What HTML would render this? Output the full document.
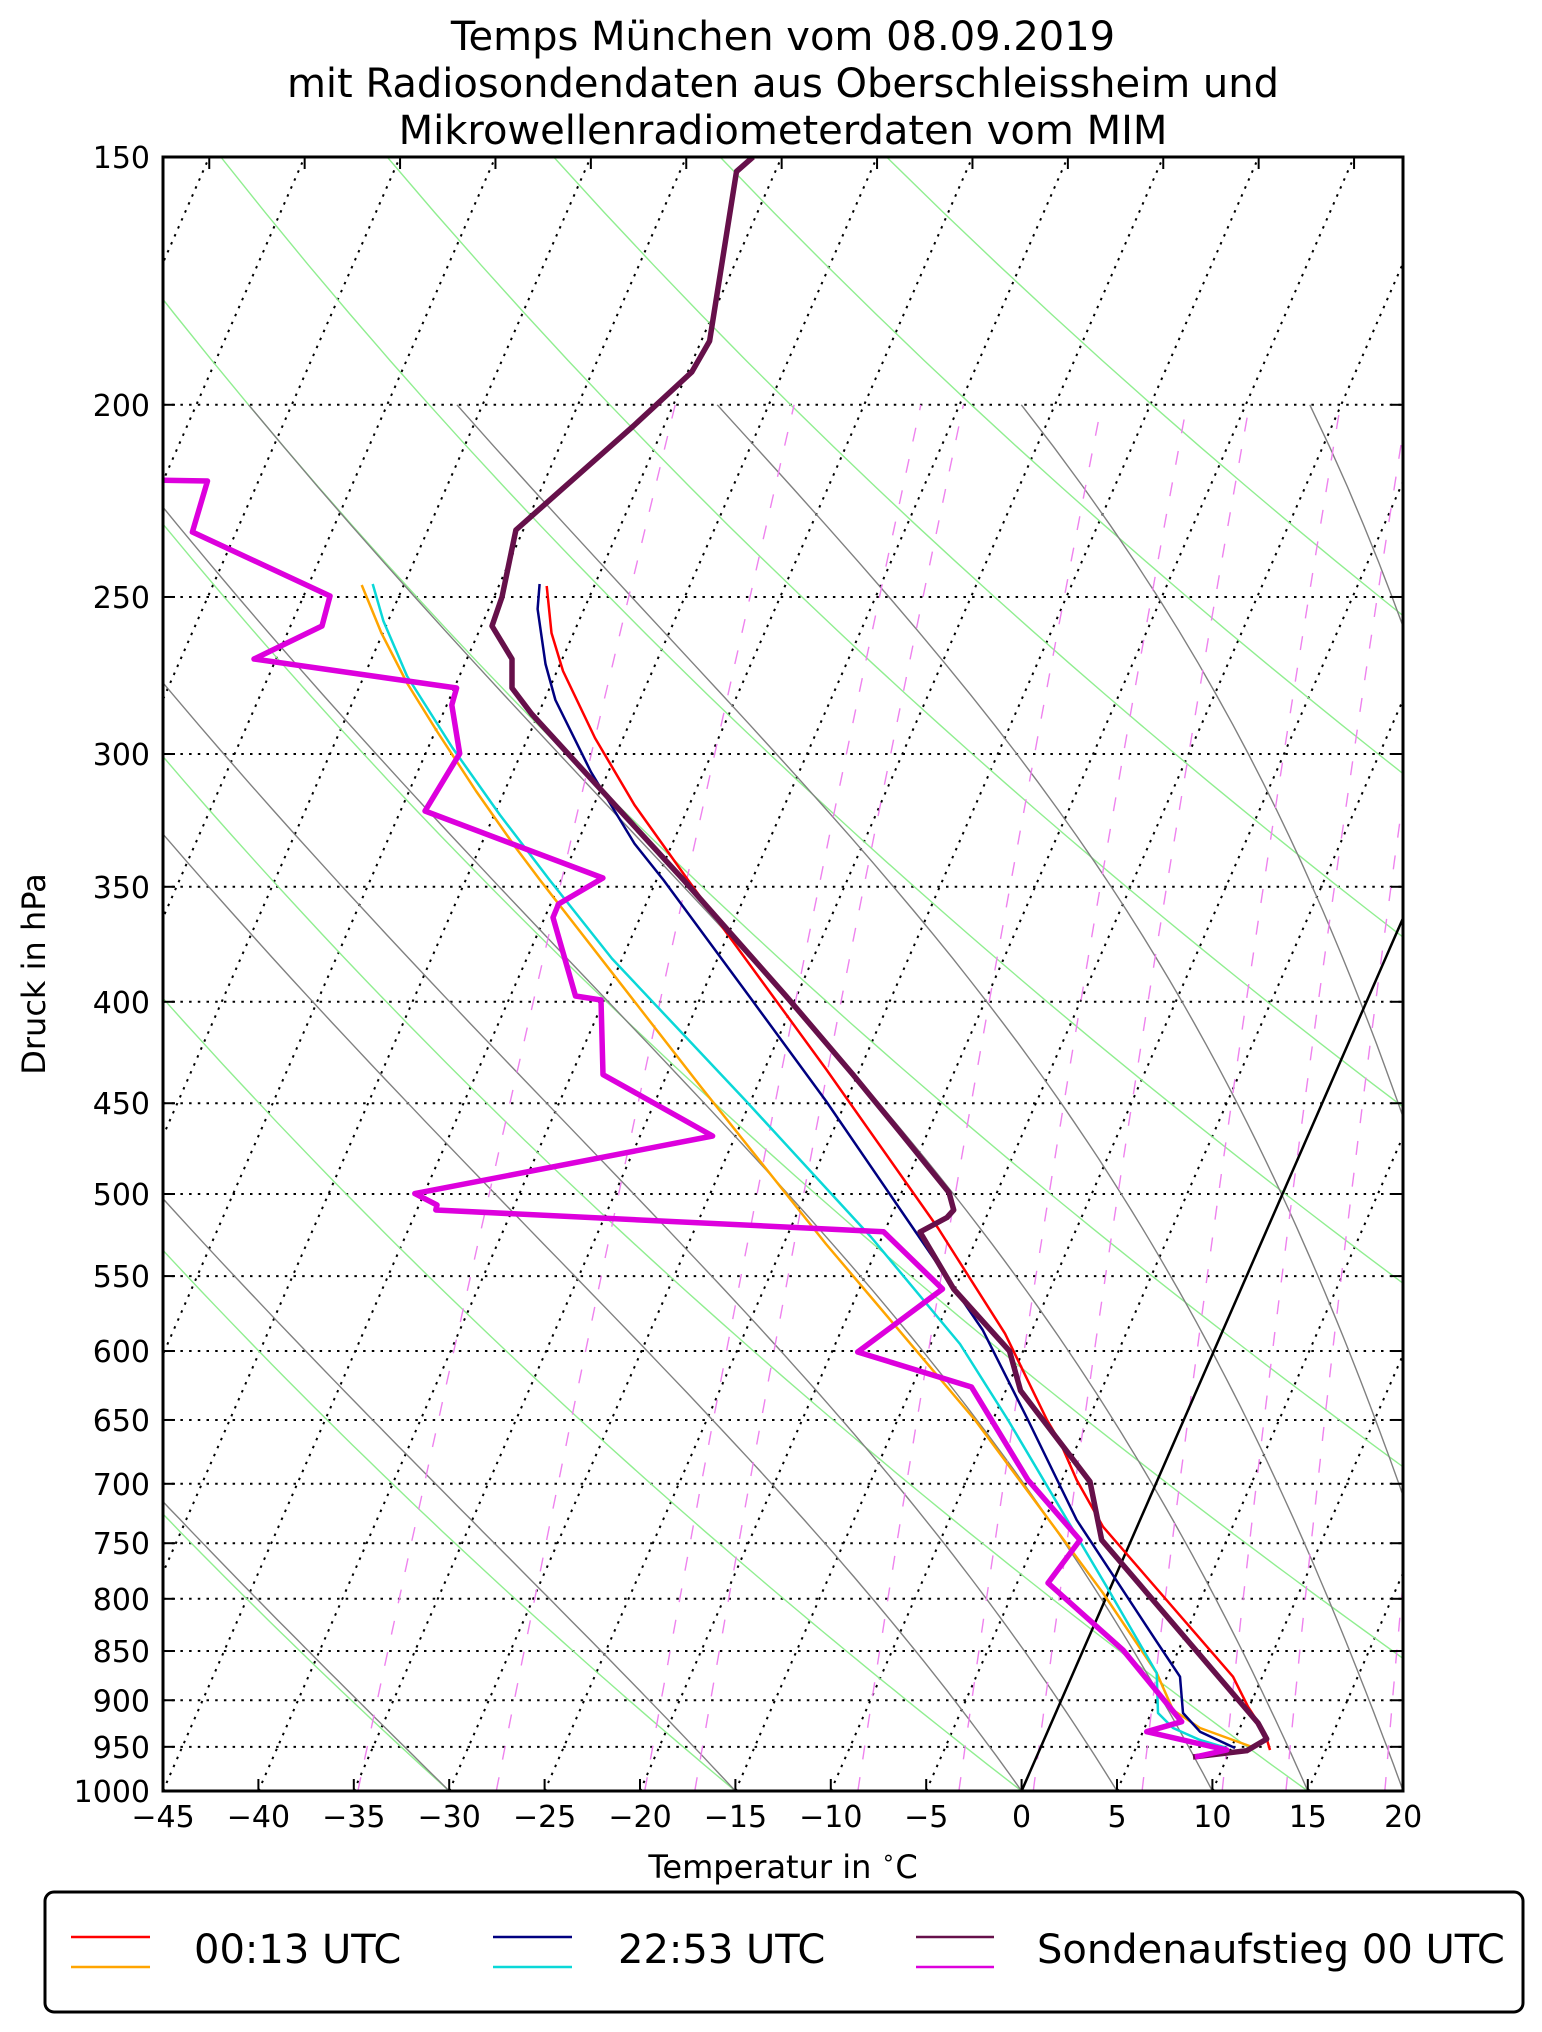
<!DOCTYPE html>
<html><head><meta charset="utf-8"><style>
html,body{margin:0;padding:0;background:#fff;}
svg{display:block;font-family:"DejaVu Sans","Liberation Sans",sans-serif;}
</style></head><body>
<svg id="s" xmlns="http://www.w3.org/2000/svg" width="1542" height="2032" viewBox="0 0 1542 2032">
<rect width="1542" height="2032" fill="#fff"/>
<defs><clipPath id="cp"><rect x="163" y="157" width="1240" height="1634"/></clipPath></defs>
<g id="grid" clip-path="url(#cp)"></g>
<g id="data" clip-path="url(#cp)"></g>
<g id="axes"></g>
<text x="783" y="50" font-size="40" text-anchor="middle">Temps München vom 08.09.2019</text>
<text x="783" y="97" font-size="40" text-anchor="middle">mit Radiosondendaten aus Oberschleissheim und</text>
<text x="783" y="144" font-size="40" text-anchor="middle">Mikrowellenradiometerdaten vom MIM</text>
<text x="783" y="1878" font-size="32" text-anchor="middle">Temperatur in <tspan dy="-13" font-size="22">∘</tspan><tspan dy="13">C</tspan></text>
<text transform="translate(45,974) rotate(-90)" font-size="32" text-anchor="middle">Druck in hPa</text>
<rect x="45" y="1892" width="1478" height="120" rx="9" fill="#fff" stroke="#000" stroke-width="3"/>
<line x1="71" y1="1937" x2="150" y2="1937" stroke="#f00" stroke-width="2.5"/>
<line x1="71" y1="1967" x2="150" y2="1967" stroke="#ffa500" stroke-width="2.5"/>
<text x="194" y="1963" font-size="40">00:13 UTC</text>
<line x1="493" y1="1937" x2="572" y2="1937" stroke="#000080" stroke-width="2.5"/>
<line x1="493" y1="1967" x2="572" y2="1967" stroke="#0ad8d8" stroke-width="2.5"/>
<text x="618" y="1963" font-size="40">22:53 UTC</text>
<line x1="916" y1="1937" x2="994" y2="1937" stroke="#66104a" stroke-width="2.5"/>
<line x1="916" y1="1967" x2="994" y2="1967" stroke="#dd00dd" stroke-width="2.5"/>
<text x="1037" y="1963" font-size="40">Sondenaufstieg 00 UTC</text>
</svg>
<script>
(function(){
var NS="http://www.w3.org/2000/svg";
var L=163,R=1403,T=157,B=1791,K=19.08,S=0.437;
var LN=Math.log(1000/150);
function Y(p){return T+(B-T)*Math.log(p/150)/LN;}
function X(t,p){return L+K*(t+45)+S*(B-Y(p));}
function el(g,n,a){var e=document.createElementNS(NS,n);for(var k in a)e.setAttribute(k,a[k]);g.appendChild(e);return e;}
var grid=document.getElementById('grid'),data=document.getElementById('data'),axes=document.getElementById('axes');
function pl(g,pts,st){var d=pts.map(function(q,i){return (i?'L':'M')+q[0].toFixed(1)+' '+q[1].toFixed(1);}).join('');
 var a={d:d,fill:'none'};for(var k in st)a[k]=st[k];return el(g,'path',a);}
var plev=[200,250,300,350,400,450,500,550,600,650,700,750,800,850,900,950];
plev.forEach(function(p){var y=Y(p);el(grid,'line',{x1:L,y1:y,x2:R,y2:y,stroke:'#000','stroke-width':2,'stroke-dasharray':'2.5 6.2'});});
for(var t=-130;t<=20;t+=5){el(grid,'line',{x1:X(t,1000),y1:B,x2:X(t,150),y2:T,stroke:'#000','stroke-width':2,'stroke-dasharray':'2.5 6.2'});}
for(var t0=-30;t0<=120;t0+=15){var th=t0+273.15,pts=[];for(var p=1000;p>=150;p-=10){pts.push([X(th*Math.pow(p/1000,0.2857)-273.15,p),Y(p)]);}
 pl(grid,pts,{stroke:'#90ee90','stroke-width':1.4});}
var Rd=287.04,Cp=1005.7,Lv=2.501e6,eps=0.622;
function es(Tk){return 6.112*Math.exp(17.67*(Tk-273.15)/(Tk-29.65));}
function dTdp(Tk,p){var e=es(Tk),rs=eps*e/(p-e);return (Rd*Tk+Lv*rs)/(Cp+Lv*Lv*rs*eps/(Rd*Tk*Tk))/p;}
[-30,-15,0,5,10,15,20,25,30,35,40,45].forEach(function(t0){var Tk=t0+273.15,p=1000,pts=[[X(t0,1000),B]];
 while(p>200){var dp=-2;var k1=dTdp(Tk,p),k2=dTdp(Tk+k1*dp/2,p+dp/2),k3=dTdp(Tk+k2*dp/2,p+dp/2),k4=dTdp(Tk+k3*dp,p+dp);
 Tk+=dp*(k1+2*k2+2*k3+k4)/6;p+=dp;if(Math.round(p)%10==0)pts.push([X(Tk-273.15,p),Y(p)]);}
 pl(grid,pts,{stroke:'#808080','stroke-width':1.4});});
[0.2,0.4,0.8,1,2,3,4,6,8,10,14,16,20,24,28,32].forEach(function(w){w/=1000;var pts=[];for(var p=1000;p>=200;p-=10){var e=p*w/(eps+w),l=Math.log(e/6.112),td=243.5*l/(17.67-l);pts.push([X(td,p),Y(p)]);}
 pl(grid,pts,{stroke:'#ee82ee','stroke-width':1.4,'stroke-dasharray':'14 18'});});
el(grid,'line',{x1:X(0,1000),y1:B,x2:X(0,150),y2:T,stroke:'#000','stroke-width':2.5});
var purple=[[753,157],[736.5,171.5],[709.6,341],[691.8,372],[634.5,425],[515.9,530],[502,597],[492,626],[512,659],[512,688],[531.7,714],[683.6,880],[786,996],[853,1074.6],[900,1132],[949,1192.5],[953.7,1210],[947,1217.5],[920,1232],[953.7,1289],[1009.5,1351],[1020.6,1390.7],[1043,1420],[1090,1481.7],[1101.7,1540],[1258,1723],[1266.7,1739],[1246.7,1750.7],[1193,1757]];
var mag=[[150,480],[207.5,481],[192.4,532],[330,596],[322,626],[254,659],[456.6,688],[451.8,705],[459.7,753.6],[425,811],[602.9,878],[558.6,904],[553,917.5],[575.5,996],[601,1000],[603,1074.6],[712.6,1136],[414.8,1193.6],[437,1205],[435.8,1210],[883.6,1231.8],[942.5,1289],[857.7,1352],[971.5,1387],[1028,1480],[1080,1540],[1048,1583],[1123,1650],[1181.7,1721.7],[1146.7,1731.7],[1226.7,1750],[1195,1757]];
var orange=[[361.7,585],[381.4,633],[407,683],[436.8,731],[476,791],[516,848],[540,880],[701,1087],[826,1244],[975,1420],[1103,1593],[1156.7,1673],[1173,1710],[1200,1728],[1255,1748]];
var cyan=[[372.7,584],[383.4,621],[407,676],[452.6,748],[500,815],[549.6,880],[612,958.6],[746,1101],[871,1237],[960,1344],[1008,1420],[1106.7,1586.7],[1156.7,1673],[1158,1713],[1173,1728],[1200,1740],[1226.7,1748]];
var navy=[[539.6,584],[537.6,609],[545.5,664],[555.4,700],[591,772],[634.5,843.6],[663.5,880],[750.5,998],[826,1101],[915.7,1232],[982.7,1330],[1028,1420],[1076.7,1520],[1156.7,1641.7],[1180,1676.7],[1183,1713],[1200,1731.7],[1235,1748]];
var red=[[546.7,586],[551.5,633],[563,671],[595,738],[634.5,805],[688,880],[826,1069],[938,1228],[1005,1333.6],[1047,1420],[1060,1442],[1076.7,1480],[1103,1526.7],[1233,1676.7],[1248,1706.7],[1265,1733],[1270,1750]];
pl(data,red,{stroke:'#f00','stroke-width':2.5,'stroke-linejoin':'round'});
pl(data,orange,{stroke:'#ffa500','stroke-width':2.5,'stroke-linejoin':'round'});
pl(data,navy,{stroke:'#000080','stroke-width':2.5,'stroke-linejoin':'round'});
pl(data,cyan,{stroke:'#0ad8d8','stroke-width':2.5,'stroke-linejoin':'round'});
pl(data,purple,{stroke:'#66104a','stroke-width':5.5,'stroke-linejoin':'round'});
pl(data,mag,{stroke:'#dd00dd','stroke-width':5.5,'stroke-linejoin':'round'});
el(axes,'rect',{x:L,y:T,width:R-L,height:B-T,fill:'none',stroke:'#000','stroke-width':3});
[150].concat(plev).concat([1000]).forEach(function(p){var y=Y(p);
 el(axes,'line',{x1:L,y1:y,x2:L+12,y2:y,stroke:'#000','stroke-width':2});
 el(axes,'line',{x1:R,y1:y,x2:R-12,y2:y,stroke:'#000','stroke-width':2});
 var t=el(axes,'text',{x:150,y:y+11,'font-size':30,'text-anchor':'end'});t.textContent=String(p);});
for(var t=-45;t<=20;t+=5){var x=L+K*(t+45);
 el(axes,'line',{x1:x,y1:B,x2:x,y2:B-12,stroke:'#000','stroke-width':2});
 var tx=el(axes,'text',{x:x,y:1827,'font-size':30,'text-anchor':'middle'});tx.textContent=(t<0?'\u2212'+(-t):String(t));}
for(var t=-80;t<=-20;t+=5){var x=X(t,150);if(x>L+2&&x<R-2)el(axes,'line',{x1:x,y1:T,x2:x,y2:T+12,stroke:'#000','stroke-width':2});}
})();
</script>
</body></html>
